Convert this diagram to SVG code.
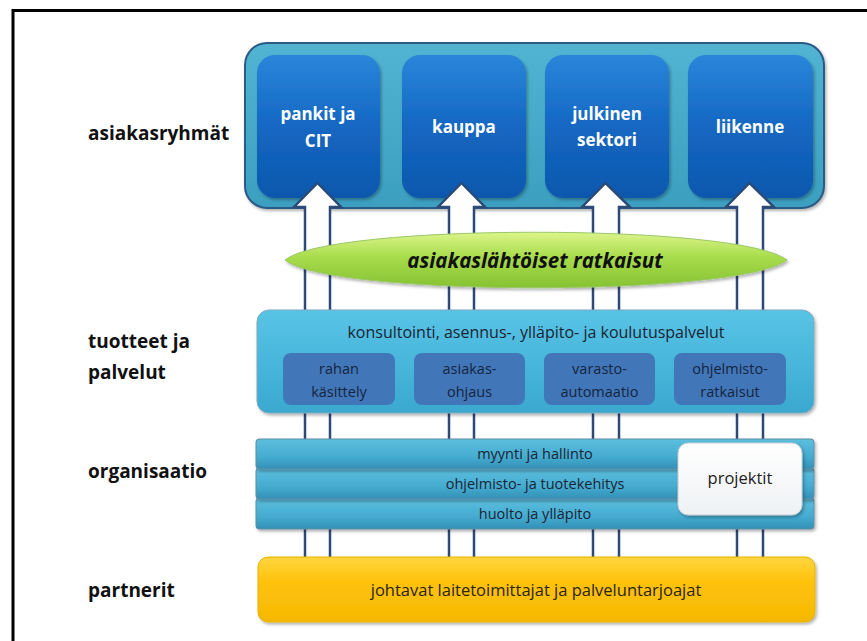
<svg xmlns="http://www.w3.org/2000/svg" width="867" height="641" viewBox="0 0 867 641">
  <defs>
    <style>
      .lbl { font-family: "Open Sans", "Liberation Sans", sans-serif; font-weight: bold; font-size: 19px; fill: #111; }
      .seg { font-family: "Open Sans", "Liberation Sans", sans-serif; font-weight: bold; font-size: 17px; fill: #ffffff; text-anchor: middle; }
      .txt { font-family: "Open Sans", "Liberation Sans", sans-serif; font-size: 14.5px; fill: #1b2433; text-anchor: middle; }
      .big { font-size: 16px; }
      .sub { font-family: "Open Sans", "Liberation Sans", sans-serif; font-size: 14.5px; fill: #16243f; text-anchor: middle; }
      .arrow { fill: #ffffff; stroke: #2c4a78; stroke-width: 2.5; stroke-linejoin: miter; }
    </style>
    <linearGradient id="gSeg" x1="0" y1="0" x2="0" y2="1">
      <stop offset="0" stop-color="#2a86da"/>
      <stop offset="0.5" stop-color="#1467c2"/>
      <stop offset="1" stop-color="#0d58ad"/>
    </linearGradient>
    <linearGradient id="gTeal" x1="0" y1="0" x2="0" y2="1">
      <stop offset="0" stop-color="#52b4d2"/>
      <stop offset="1" stop-color="#3b9fc0"/>
    </linearGradient>
    <linearGradient id="gProd" x1="0" y1="0" x2="0" y2="1">
      <stop offset="0" stop-color="#58c4e6"/>
      <stop offset="1" stop-color="#3aa8cf"/>
    </linearGradient>
    <linearGradient id="gBar" x1="0" y1="0" x2="0" y2="1">
      <stop offset="0" stop-color="#5cbfdf"/>
      <stop offset="0.6" stop-color="#45abd0"/>
      <stop offset="1" stop-color="#3390b6"/>
    </linearGradient>
    <linearGradient id="gGreen" x1="0" y1="0" x2="0" y2="1">
      <stop offset="0" stop-color="#dcf58a"/>
      <stop offset="0.45" stop-color="#a8dc4c"/>
      <stop offset="1" stop-color="#86c232"/>
    </linearGradient>
    <linearGradient id="gYellow" x1="0" y1="0" x2="0" y2="1">
      <stop offset="0" stop-color="#ffd640"/>
      <stop offset="0.35" stop-color="#ffc310"/>
      <stop offset="1" stop-color="#f5b800"/>
    </linearGradient>
    <linearGradient id="gWhite" x1="0" y1="0" x2="0" y2="1">
      <stop offset="0" stop-color="#ffffff"/>
      <stop offset="1" stop-color="#eef1f4"/>
    </linearGradient>
    <filter id="shadow" x="-10%" y="-10%" width="120%" height="130%">
      <feDropShadow dx="1.5" dy="2" stdDeviation="1.8" flood-color="#000" flood-opacity="0.3"/>
    </filter>
  </defs>

  <rect x="0" y="0" width="867" height="641" fill="#ffffff"/>
  <!-- frame lines -->
  <path d="M13,641 V10.5 H867" fill="none" stroke="#000" stroke-width="3"/>

  <!-- row labels -->
  <g id="labels">
    <text class="lbl" x="88" y="140">asiakasryhmät</text>
    <text class="lbl" x="88" y="348">tuotteet ja</text>
    <text class="lbl" x="88" y="379">palvelut</text>
    <text class="lbl" x="88" y="478">organisaatio</text>
    <text class="lbl" x="88" y="597">partnerit</text>
  </g>

  <!-- customer segments -->
  <g id="asiakasryhmat">
    <rect x="245" y="43" width="579" height="165" rx="22" fill="url(#gTeal)" stroke="#2b5a86" stroke-width="2" filter="url(#shadow)"/>
    <g id="pankit">
      <rect x="257" y="55" width="123" height="143" rx="18" fill="url(#gSeg)" filter="url(#shadow)"/>
      <text class="seg" x="318" y="120">pankit ja</text>
      <text class="seg" x="318" y="147">CIT</text>
    </g>
    <g id="kauppa">
      <rect x="402" y="55" width="124" height="143" rx="18" fill="url(#gSeg)" filter="url(#shadow)"/>
      <text class="seg" x="464" y="133">kauppa</text>
    </g>
    <g id="julkinen">
      <rect x="545" y="55" width="124" height="143" rx="18" fill="url(#gSeg)" filter="url(#shadow)"/>
      <text class="seg" x="607" y="120">julkinen</text>
      <text class="seg" x="607" y="146">sektori</text>
    </g>
    <g id="liikenne">
      <rect x="688" y="55" width="125" height="143" rx="18" fill="url(#gSeg)" filter="url(#shadow)"/>
      <text class="seg" x="750" y="133">liikenne</text>
    </g>
  </g>

  <!-- upward arrows from partners to customer segments -->
  <g id="connectors">
    <polygon class="arrow" points="305,610 305,207 294,207 317.5,183 341,207 330,207 330,610"/>
    <polygon class="arrow" points="449,610 449,207 438,207 461.5,183 485,207 474,207 474,610"/>
    <polygon class="arrow" points="593,610 593,207 582,207 605.5,183 630,207 619,207 619,610"/>
    <polygon class="arrow" points="737,610 737,207 726,207 749.5,183 774,207 763,207 763,610"/>
  </g>

  <!-- customer-oriented solutions -->
  <g id="ratkaisut">
    <path d="M285,260 C330,223 740,223 787,260 C740,297 330,297 285,260 Z" fill="url(#gGreen)" stroke="#9bc86a" stroke-width="1" filter="url(#shadow)"/>
    <text x="535" y="268" text-anchor="middle" font-family="'Open Sans', 'Liberation Sans', sans-serif" font-weight="bold" font-style="italic" font-size="20.5" fill="#111">asiakaslähtöiset ratkaisut</text>
  </g>

  <!-- products and services -->
  <g id="tuotteet">
    <rect x="257" y="310" width="557" height="103" rx="12" fill="url(#gProd)" stroke="#7fa9bf" stroke-width="1" filter="url(#shadow)"/>
    <text class="txt big" x="536" y="338">konsultointi, asennus-, ylläpito- ja koulutuspalvelut</text>
    <g id="rahan">
      <rect x="283" y="353" width="112" height="52" rx="8" fill="#4177b8"/>
      <text class="sub" x="339" y="374">rahan</text>
      <text class="sub" x="339" y="397">käsittely</text>
    </g>
    <g id="asiakasohjaus">
      <rect x="414" y="353" width="111" height="52" rx="8" fill="#4177b8"/>
      <text class="sub" x="469.5" y="374">asiakas-</text>
      <text class="sub" x="469.5" y="397">ohjaus</text>
    </g>
    <g id="varasto">
      <rect x="544" y="353" width="111" height="52" rx="8" fill="#4177b8"/>
      <text class="sub" x="599.5" y="374">varasto-</text>
      <text class="sub" x="599.5" y="397">automaatio</text>
    </g>
    <g id="ohjelmisto">
      <rect x="674" y="353" width="112" height="52" rx="8" fill="#4177b8"/>
      <text class="sub" x="730" y="374">ohjelmisto-</text>
      <text class="sub" x="730" y="397">ratkaisut</text>
    </g>
  </g>

  <!-- organisation -->
  <g id="organisaatio">
    <g id="huolto">
      <rect x="256" y="498" width="558" height="31" rx="3" fill="url(#gBar)" stroke="#5f8ea6" stroke-width="1" filter="url(#shadow)"/>
      <text class="txt" x="535" y="519">huolto ja ylläpito</text>
    </g>
    <g id="kehitys">
      <rect x="256" y="468" width="558" height="31" rx="3" fill="url(#gBar)" stroke="#5f8ea6" stroke-width="1" filter="url(#shadow)"/>
      <text class="txt" x="535" y="489">ohjelmisto- ja tuotekehitys</text>
    </g>
    <g id="myynti">
      <rect x="256" y="439" width="558" height="30" rx="3" fill="url(#gBar)" stroke="#5f8ea6" stroke-width="1" filter="url(#shadow)"/>
      <text class="txt" x="535" y="459">myynti ja hallinto</text>
    </g>
    <g id="projektit">
      <rect x="678" y="443" width="124" height="72" rx="10" fill="url(#gWhite)" stroke="#c8ccd0" stroke-width="1" filter="url(#shadow)"/>
      <text class="txt" x="740" y="484" style="font-size:16.5px;fill:#222">projektit</text>
    </g>
  </g>

  <!-- partners -->
  <g id="partnerit">
    <rect x="258" y="557" width="557" height="65" rx="10" fill="url(#gYellow)" stroke="#e7b300" stroke-width="1" filter="url(#shadow)"/>
    <text class="txt" x="536" y="596" style="font-size:16.5px;fill:#2a2410">johtavat laitetoimittajat ja palveluntarjoajat</text>
  </g>
</svg>
